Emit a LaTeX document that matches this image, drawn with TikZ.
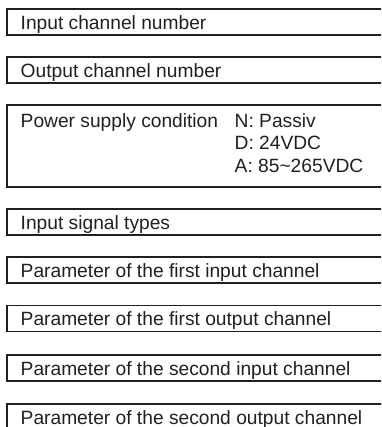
\documentclass[tikz,border=0pt]{standalone}
\usepackage{fontspec}
\setmainfont{Liberation Sans}
\definecolor{ink}{RGB}{35,31,32}
\begin{document}
\begin{tikzpicture}[x=1pt,y=-1pt,
  frame/.style={draw=ink,line width=1.3pt},
  lbl/.style={inner sep=0pt,anchor=base west,text=ink,font=\fontsize{19.2}{22.5}\selectfont}]
\useasboundingbox (0,0) rectangle (381,427);
\begin{scope}
\clip (0,0) rectangle (381,427);
% open boxes (right side open)
\foreach \t/\b in {9/35,57/83,105/187,209/235,257/283,305.5/331.5,355/381,404/430}{
  \draw[frame] (382,\t) -- (7,\t) -- (7,\b) -- (382,\b);
}
\end{scope}
\node[lbl] (l1) at (20.5,29.3) {Input channel number};
\node[lbl] (l2) at (20.5,77.3) {Output channel number};
\node[lbl] (l3) at (20.5,127.5) {Power supply condition};
\node[lbl] (l3a) at (234.5,127.5) {N: Passiv};
\node[lbl] (l3b) at (234.5,150) {D: 24VDC};
\node[lbl] (l3c) at (234.5,172.5) {A: 85\char"007E 265VDC};
\node[lbl] (l4) at (20.5,229.3) {Input signal types};
\node[lbl] (l5) at (20.5,277.3) {Parameter of the first input channel};
\node[lbl] (l6) at (20.5,325.8) {Parameter of the first output channel};
\node[lbl] (l7) at (20.5,375.3) {Parameter of the second input channel};
\node[lbl] (l8) at (20.5,424.3) {Parameter of the second output channel};
\end{tikzpicture}
\end{document}
